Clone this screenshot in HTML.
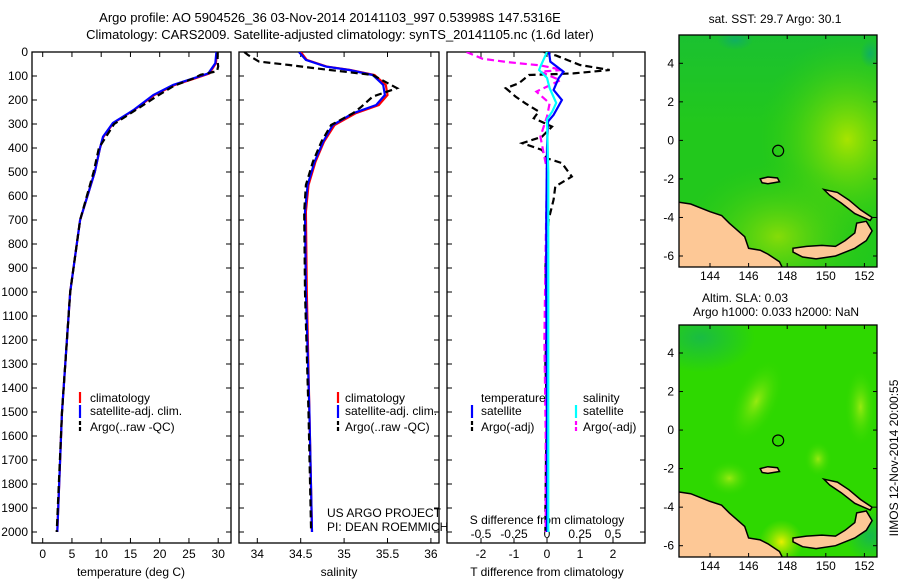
<!DOCTYPE html>
<html><head><meta charset="utf-8">
<style>
body{margin:0;background:#fff;}
svg{display:block;font-family:"Liberation Sans",sans-serif;}
text{fill:#000;}
</style></head>
<body>
<svg id="fig" width="900" height="580" viewBox="0 0 900 580">
<defs>
<clipPath id="cp1"><rect x="32" y="52" width="199" height="491"/></clipPath>
<clipPath id="cp2"><rect x="239" y="52" width="200" height="491"/></clipPath>
<clipPath id="cp3"><rect x="447" y="52" width="198" height="491"/></clipPath>
<clipPath id="cm1"><rect x="679" y="35" width="198" height="232"/></clipPath>
<clipPath id="cm2"><rect x="679" y="325" width="198" height="232"/></clipPath>
<radialGradient id="g1" cx="0.85" cy="0.45" r="0.45"><stop offset="0" stop-color="#a8e400"/><stop offset="1" stop-color="#2ccc10" stop-opacity="0"/></radialGradient>
<radialGradient id="g2" cx="0.5" cy="0.8" r="0.5"><stop offset="0" stop-color="#b0e400"/><stop offset="1" stop-color="#2ccc10" stop-opacity="0"/></radialGradient>
<radialGradient id="g3" cx="0.5" cy="0.5" r="0.5"><stop offset="0" stop-color="#e8f000"/><stop offset="1" stop-color="#90e400" stop-opacity="0"/></radialGradient>
<radialGradient id="g4" cx="0.5" cy="0.5" r="0.5"><stop offset="0" stop-color="#96ea10"/><stop offset="1" stop-color="#30d800" stop-opacity="0"/></radialGradient>
<radialGradient id="g5" cx="0.5" cy="0.5" r="0.5"><stop offset="0" stop-color="#10b060"/><stop offset="1" stop-color="#10b060" stop-opacity="0"/></radialGradient>
<linearGradient id="gtop" x1="0" y1="0" x2="0" y2="1"><stop offset="0" stop-color="#12b84a" stop-opacity="0.45"/><stop offset="1" stop-color="#12b84a" stop-opacity="0"/></linearGradient>
</defs>
<text x="330" y="22" font-size="13" text-anchor="middle">Argo profile: AO 5904526_36 03-Nov-2014 20141103_997 0.53998S 147.5316E</text>
<text x="340" y="39" font-size="13" text-anchor="middle">Climatology: CARS2009. Satellite-adjusted climatology: synTS_20141105.nc (1.6d later)</text>
<g id="plots"></g>
<g id="maps"></g>
<text x="775" y="23" font-size="12" text-anchor="middle">sat. SST: 29.7 Argo: 30.1</text>
<text x="745" y="302" font-size="12" text-anchor="middle">Altim. SLA: 0.03</text>
<text x="776" y="316" font-size="12" text-anchor="middle">Argo h1000: 0.033 h2000: NaN</text>
<text transform="translate(898,458) rotate(-90)" font-size="12" text-anchor="middle">IIMOS 12-Nov-2014 20:00:55</text>
<text x="327" y="517" font-size="12">US ARGO PROJECT</text>
<text x="327" y="531" font-size="12">PI: DEAN ROEMMICH</text>
</svg>
<script>
// ---- data ----
const tDepths = [0,47,89,110,137,179,242,296,353,400,500,700,1000,1500,2000];
const tClim   = [29.8,29.6,28.5,26.0,22.6,19.1,15.6,12.1,10.4,9.8,8.9,6.4,4.7,3.3,2.5];
const tSat    = [29.7,29.5,28.3,25.7,22.3,18.9,15.5,12.0,10.3,9.8,8.9,6.4,4.7,3.3,2.5];
const tArgoD  = [0,40,60,80,95,110,140,180,240,300,400,500,700,1000,1500,2000];
const tArgo   = [29.9,29.9,30.0,29.8,27.0,25.8,22.5,19.8,16.0,12.2,9.6,8.7,6.4,4.7,3.3,2.4];
const sDepths = [0,33,61,75,96,137,179,221,256,304,373,457,554,665,1000,1500,2000];
const sClim   = [34.50,34.57,34.80,35.07,35.35,35.48,35.50,35.40,35.13,34.89,34.77,34.67,34.59,34.56,34.57,34.60,34.63];
const sSat    = [34.48,34.56,34.79,35.06,35.33,35.45,35.47,35.37,35.10,34.87,34.76,34.66,34.58,34.55,34.56,34.60,34.63];
const sArgoD  = [0,12,40,54,68,96,151,186,231,256,304,373,457,554,665,1000,1500,2000];
const sArgo   = [33.85,33.89,34.02,34.37,34.67,35.33,35.61,35.33,35.19,35.10,34.85,34.74,34.64,34.56,34.54,34.55,34.59,34.62];
const dDepths = [0,40,82,110,158,200,262,290,400,700,1000,1500,2000];
const dTSat   = [0.06,0.1,0.5,0.35,0.2,0.45,0.2,0.03,0.0,-0.02,-0.02,0.0,0.0];
const dSSatD  = [0,61,75,108,150,212,248,281,500,1000,1500,2000];
const dSSat   = [0,-0.05,-0.06,0,0.02,0.07,0.04,0,0.01,0.01,0.01,0.01];
const dTArgoD = [0,15,54,75,89,96,130,151,186,214,248,276,311,353,380,408,443,463,519,560,615,699,900,1100,1300,1500,1700,1900,2000];
const dTArgo  = [-0.1,0.28,1.0,1.9,0.8,-0.55,-0.85,-1.25,-0.95,-0.65,-0.25,-0.4,0.15,-0.15,-0.75,-0.15,0.0,0.45,0.75,0.25,0.2,0.05,-0.05,0.0,-0.05,0.0,-0.03,-0.05,-0.05];
const dSArgoD = [0,28,42,56,75,82,118,165,214,269,353,492,800,1200,1600,2000];
const dSArgo  = [-0.61,-0.49,-0.3,-0.05,0.12,-0.05,0.1,-0.08,0.02,0.0,-0.05,0.0,-0.01,-0.02,-0.01,-0.01];
const depthTicks = [0,100,200,300,400,500,600,700,800,900,1000,1100,1200,1300,1400,1500,1600,1700,1800,1900,2000];
const tTicks = [0,5,10,15,20,25,30];
const sTicks = [34,34.5,35,35.5,36];
const dTTicks = [-2,-1,0,1,2];
const dSTicks = [-0.5,-0.25,0,0.25,0.5];
const dSTickLabels = ["-0.5","-0.25","0","0.25","0.5"];
const lonTicks = [144,146,148,150,152];
const latTicks = [4,2,0,-2,-4,-6];
const argoLon = 147.5316, argoLat = -0.53998;

// ---- scales ----
const yD = d => 52 + 0.24*d;
const xT = t => 42.7 + 5.85*t;
const xS = s => 257.3 + 86.8*(s-34);
const xDT = v => 547 + 33*v;
const xDS = v => 547 + 132*v;
const mX = lon => 710 + 19.3*(lon-144);
const mY1 = lat => 63.3 - 19.27*(lat-4);
const mY2 = lat => 353 - 19.27*(lat-4);

const NS = "http://www.w3.org/2000/svg";
function mk(tag, attrs, parent){
  const e = document.createElementNS(NS, tag);
  for (const k in attrs) e.setAttribute(k, attrs[k]);
  parent.appendChild(e);
  return e;
}
const plots = document.getElementById('plots');
const maps = document.getElementById('maps');

function frame(x0,x1,name){
  const r = mk('rect',{x:x0,y:52,width:x1-x0,height:491,fill:'none',stroke:'#000','stroke-width':1.3},plots);
  
  
  depthTicks.forEach(d=>{
    const t1 = mk('line',{x1:x0,x2:x0+5,y1:yD(d),y2:yD(d),stroke:'#000'},plots);
    
    
    const t2 = mk('line',{x1:x1-5,x2:x1,y1:yD(d),y2:yD(d),stroke:'#000'},plots);
    
    
  });
}
function xticks(vals, labels, fx, x0, x1, labelY){
  vals.forEach((v,i)=>{
    const x = fx(v);
    const a = mk('line',{x1:x,x2:x,y1:52,y2:57,stroke:'#000'},plots);
    
    
    const b = mk('line',{x1:x,x2:x,y1:538,y2:543,stroke:'#000'},plots);
    
    
    const t = mk('text',{x:x,y:labelY,'font-size':12,'text-anchor':'middle'},plots);
    t.textContent = labels[i];
    
    
  });
}
function line(xs, ds, fx, color, dashed, clip, name, w){
  const pts = xs.map((v,i)=>fx(v).toFixed(1)+','+yD(ds[i]).toFixed(1)).join(' ');
  const p = mk('polyline',{points:pts,fill:'none',stroke:color,'stroke-width':w||2.2,'clip-path':'url(#'+clip+')'},plots);
  if (dashed) p.setAttribute('stroke-dasharray','7,4');
  
  
}
function txt(x,y,s,name,anchor,size){
  const t = mk('text',{x:x,y:y,'font-size':size||12,'text-anchor':anchor||'start'},plots);
  t.textContent = s;
  
  
}
function legLine(x,y1,y2,color,dashed,name){
  const l = mk('line',{x1:x,x2:x,y1:y1,y2:y2,stroke:color,'stroke-width':2.2},plots);
  if (dashed) l.setAttribute('stroke-dasharray','4,2');
  
  
}

// panel 1 temperature
frame(32,231,'temperature-panel');
depthTicks.forEach(d=>txt(28,yD(d)+4,String(d),'depth-tick-label','end'));
xticks(tTicks, tTicks.map(String), xT, 32, 231, 558);
txt(131,576,'temperature (deg C)','temperature-axis-title','middle');
line(tClim,tDepths,xT,'#ff0000',false,'cp1','temp-climatology-line');
line(tSat,tDepths,xT,'#0000ff',false,'cp1','temp-satellite-line');
line(tArgo,tArgoD,xT,'#000',true,'cp1','temp-argo-line');
legLine(80,392,403,'#ff0000',false,'legend-climatology-swatch');
legLine(80,405,418,'#0000ff',false,'legend-satellite-swatch');
legLine(80,421,433,'#000',true,'legend-argo-swatch');
txt(90,402,'climatology','legend-climatology');
txt(90,415,'satellite-adj. clim.','legend-satellite');
txt(90,431,'Argo(..raw -QC)','legend-argo');

// panel 2 salinity
frame(239,439,'salinity-panel');
xticks(sTicks, sTicks.map(String), xS, 239, 439, 558);
txt(339,576,'salinity','salinity-axis-title','middle');
line(sClim,sDepths,xS,'#ff0000',false,'cp2','sal-climatology-line');
line(sSat,sDepths,xS,'#0000ff',false,'cp2','sal-satellite-line');
line(sArgo,sArgoD,xS,'#000',true,'cp2','sal-argo-line');
legLine(338,392,403,'#ff0000',false,'legend-climatology-swatch');
legLine(338,405,418,'#0000ff',false,'legend-satellite-swatch');
legLine(338,421,433,'#000',true,'legend-argo-swatch');
txt(345,402,'climatology','legend-climatology');
txt(345,415,'satellite-adj. clim.','legend-satellite');
txt(345,431,'Argo(..raw -QC)','legend-argo');

// panel 3 differences
frame(447,645,'difference-panel');
xticks(dTTicks, dTTicks.map(String), xDT, 447, 645, 558);
dSTicks.forEach((v,i)=>txt(xDS(v),538,dSTickLabels[i],'s-diff-tick-label','middle'));
txt(547,524,'S difference from climatology','s-diff-axis-title','middle');
txt(547,576,'T difference from climatology','t-diff-axis-title','middle');
line(dTArgo,dTArgoD,xDT,'#000',true,'cp3','tdiff-argo-line');
line(dSArgo,dSArgoD,xDS,'#ff00ff',true,'cp3','sdiff-argo-line');
line(dTSat,dDepths,xDT,'#0000ff',false,'cp3','tdiff-satellite-line');
line(dSSat,dSSatD,xDS,'#00ffff',false,'cp3','sdiff-satellite-line');
txt(481,402,'temperature','legend-temperature-header');
txt(583,402,'salinity','legend-salinity-header');
legLine(472,405,418,'#0000ff',false,'legend-tsat-swatch');
legLine(472,421,433,'#000',true,'legend-targo-swatch');
legLine(576,405,418,'#00ffff',false,'legend-ssat-swatch');
legLine(576,421,433,'#ff00ff',true,'legend-sargo-swatch');
txt(481,415,'satellite','legend-tsat');
txt(481,431,'Argo(-adj)','legend-targo');
txt(583,415,'satellite','legend-ssat');
txt(583,431,'Argo(-adj)','legend-sargo');

// ---- maps ----
const png = [[142.3,-3.2],[143,-3.3],[144,-3.7],[144.6,-3.9],[145,-4.3],[145.8,-5.0],[146,-5.6],[146.6,-5.7],[147,-5.9],[147.6,-6.3],[147.8,-6.7],[142.3,-6.7]];
const nbr = [[148.3,-5.6],[149,-5.5],[149.8,-5.45],[150.5,-5.5],[151,-5.2],[151.5,-4.8],[151.6,-4.3],[152.1,-4.2],[152.4,-4.7],[152.1,-5.2],[151.5,-5.6],[150.5,-6.0],[149.5,-6.15],[148.8,-6.05],[148.3,-5.8]];
const nir = [[149.9,-2.55],[150.6,-2.7],[151.2,-3.1],[151.8,-3.6],[152.4,-4.0],[152.3,-4.15],[151.5,-3.8],[150.8,-3.25],[150.2,-2.85]];
const manus = [[146.6,-2.0],[147.0,-1.9],[147.5,-1.95],[147.6,-2.15],[147.0,-2.25],[146.7,-2.2]];
function drawMap(fy, top, clip, kind){
  const g = mk('g',{'clip-path':'url(#'+clip+')'},maps);
  
  
  if (kind==='sst'){
    mk('rect',{x:679,y:top,width:198,height:232,fill:'#22c81c'},g);
    mk('rect',{x:679,y:top,width:198,height:90,fill:'url(#gtop)'},g);
    mk('rect',{x:679,y:top,width:198,height:232,fill:'url(#g1)'},g);
    mk('rect',{x:679,y:top+80,width:198,height:152,fill:'url(#g2)',opacity:0.7},g);
    mk('ellipse',{cx:mX(145.3),cy:fy(5.2),rx:18,ry:10,fill:'url(#g5)'},g);
    mk('ellipse',{cx:mX(152.3),cy:fy(4.5),rx:10,ry:14,fill:'url(#g5)'},g);
  } else {
    mk('rect',{x:679,y:top,width:198,height:232,fill:'#2ed800'},g);
    mk('ellipse',{cx:mX(143.5),cy:fy(4.8),rx:55,ry:35,fill:'url(#g5)',opacity:0.7},g);
    mk('ellipse',{cx:mX(146.4),cy:fy(1.5),rx:22,ry:45,fill:'url(#g4)',transform:'rotate(25 '+mX(146.4)+' '+fy(1.5)+')'},g);
    mk('ellipse',{cx:mX(151.8),cy:fy(1.2),rx:16,ry:40,fill:'url(#g4)'},g);
    mk('ellipse',{cx:mX(149.6),cy:fy(-1.5),rx:14,ry:18,fill:'url(#g4)'},g);
    mk('ellipse',{cx:mX(145),cy:fy(-2.5),rx:22,ry:18,fill:'url(#g4)'},g);
    mk('ellipse',{cx:mX(147.7),cy:fy(-5.8),rx:22,ry:22,fill:'url(#g3)'},g);
    mk('ellipse',{cx:mX(152.3),cy:fy(-5.5),rx:25,ry:25,fill:'url(#g5)',opacity:0.8},g);
  }
  [png,nbr,nir,manus].forEach((poly,i)=>{
    const p = mk('polygon',{points:poly.map(q=>mX(q[0]).toFixed(1)+','+fy(q[1]).toFixed(1)).join(' '),fill:'#fdc896',stroke:'#000','stroke-width':1.5},g);
    
    
  });
  const c = mk('circle',{cx:mX(argoLon),cy:fy(argoLat),r:5.5,fill:'none',stroke:'#000','stroke-width':1.2},maps);
  
  
  const f = mk('rect',{x:679,y:top,width:198,height:232,fill:'none',stroke:'#000','stroke-width':1.3},maps);
  
  
  lonTicks.forEach(l=>{
    const x = mX(l);
    mk('line',{x1:x,x2:x,y1:top,y2:top+4,stroke:'#000'},maps);
    mk('line',{x1:x,x2:x,y1:top+228,y2:top+232,stroke:'#000'},maps);
    const t = mk('text',{x:x,y:top+245,'font-size':12,'text-anchor':'middle'},maps);
    t.textContent = String(l);
    
    
  });
  latTicks.forEach(l=>{
    const y = fy(l);
    mk('line',{x1:679,x2:683,y1:y,y2:y,stroke:'#000'},maps);
    mk('line',{x1:873,x2:877,y1:y,y2:y,stroke:'#000'},maps);
    const t = mk('text',{x:674,y:y+4,'font-size':12,'text-anchor':'end'},maps);
    t.textContent = String(l);
    
    
  });
}
drawMap(mY1, 35, 'cm1', 'sst');
drawMap(mY2, 325, 'cm2', 'sla');
</script>
</body></html>
